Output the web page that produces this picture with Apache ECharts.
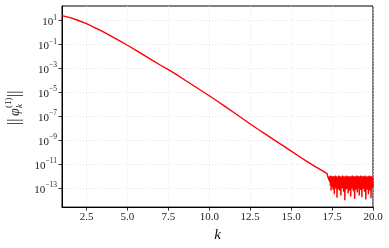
<!DOCTYPE html>
<html>
<head>
<meta charset="utf-8">
<script src="https://cdn.jsdelivr.net/npm/echarts@6/dist/echarts.min.js"></script>
<style>html,body{margin:0;padding:0;background:#fff;}#c{width:389px;height:248px;}</style>
</head>
<body>
<div id="c"></div>
<script>
// smooth decay part: k and log10 of the norm
const kSmooth = [1.0,1.5,2.0,2.5,3.0,3.5,4.0,4.5,5.0,5.5,6.0,6.5,7.0,7.5,8.0,8.5,9.0,9.5,10.0,10.5,11.0,11.5,12.0,12.5,13.0,13.5,14.0,14.5,15.0,15.5,16.0,16.5,17.0,17.2];
const logNormSmooth = [1.42,1.25,1.01,0.75,0.42,0.07,-0.30,-0.68,-1.06,-1.46,-1.88,-2.30,-2.71,-3.10,-3.52,-3.96,-4.40,-4.84,-5.28,-5.74,-6.21,-6.68,-7.16,-7.64,-8.10,-8.55,-9.00,-9.45,-9.90,-10.35,-10.80,-11.22,-11.62,-11.78];
// round-off noise floor, sampled every 0.02 from k = 17.22
const noiseStartK = 17.22, noiseStepK = 0.02;
const logNormNoise = [
-11.85,-12.05,-11.9,-12.2,-11.95,-12.35,-12.0,-12.5,-12.05,-12.8,-11.95,-13.2,-12.1,-12.9,-12.0,
-12.6,-12.05,-13.1,-12.0,-12.9,-12.1,-13.5,-12.0,-12.7,-11.95,
-13.0,-12.1,-12.8,-12.0,-13.8,-12.05,-12.9,-12.15,-13.1,-11.95,
-12.7,-12.0,-13.2,-12.1,-12.95,-12.0,-13.6,-12.05,-12.8,-12.1,
-13.0,-11.95,-12.85,-12.0,-13.3,-12.1,-12.9,-12.0,-14.0,-12.05,
-12.8,-12.1,-13.1,-11.95,-12.75,-12.0,-13.0,-12.1,-13.45,-12.0,
-12.9,-12.05,-13.2,-12.0,-12.8,-12.15,-13.7,-12.0,-12.95,-12.05,
-13.05,-11.95,-12.7,-12.1,-13.25,-12.0,-12.9,-12.05,-13.9,-12.0,
-12.85,-12.1,-13.1,-12.0,-12.75,-11.95,-13.35,-12.05,-12.9,-12.0,
-13.0,-12.1,-13.6,-12.0,-12.8,-12.05,-13.15,-11.95,-12.9,-12.1,
-13.75,-12.0,-12.85,-12.05,-13.05,-12.0,-12.7,-12.1,-13.3,-11.95,
-12.9,-12.0,-13.95,-12.05,-12.8,-12.1,-13.1,-12.0,-12.95,-12.05,
-13.5,-12.0,-12.85,-11.95,-13.2,-12.1,-12.9,-12.0,-13.85,-12.05,
-12.8,-12.0,-13.0,-12.1,-12.9
];
const xTicks = [2.5,5.0,7.5,10.0,12.5,15.0,17.5,20.0];
const yTickExponents = [1,-1,-3,-5,-7,-9,-11,-13];

const data = [];
kSmooth.forEach((k,i)=>data.push([k, logNormSmooth[i]]));
logNormNoise.forEach((v,i)=>data.push([+(noiseStartK + i*noiseStepK).toFixed(2), v]));

const serif = '"Liberation Serif", "DejaVu Serif", serif';
const chart = echarts.init(document.getElementById('c'), null, {renderer:'canvas'});
chart.setOption({
  animation:false,
  backgroundColor:'#fff',
  grid:{left:62, right:16, top:6, bottom:40, show:true, borderColor:'#000', borderWidth:1},
  xAxis:{
    type:'value', min:1, max:20,
    axisLine:{show:true, onZero:false, lineStyle:{color:'#000', width:1}},
    axisTick:{show:true, customValues:xTicks, length:3.5, lineStyle:{color:'#000', width:0.8}},
    axisLabel:{customValues:xTicks, color:'#222', fontFamily:serif, fontSize:11, margin:5,
      formatter:v=>v.toFixed(1)},
    splitLine:{show:true, lineStyle:{color:'#e0e0e0', type:[1,2], width:0.8}},
    name:'k', nameLocation:'middle', nameGap:18,
    nameTextStyle:{fontFamily:serif, fontStyle:'italic', fontSize:15, color:'#111'}
  },
  yAxis:{
    type:'value', min:-14.58, max:2.22,
    axisLine:{show:true, onZero:false, lineStyle:{color:'#000', width:1}},
    axisTick:{show:true, customValues:yTickExponents, length:3.5, lineStyle:{color:'#000', width:0.8}},
    axisLabel:{customValues:yTickExponents, color:'#222', margin:5,
      formatter:v=>'{b|10}{s|' + (v<0 ? '\u2212'+(-v) : v) + '}',
      rich:{
        b:{fontFamily:serif, fontSize:11, color:'#222', verticalAlign:'bottom', lineHeight:14},
        s:{fontFamily:serif, fontSize:7.5, color:'#222', verticalAlign:'top', lineHeight:14, padding:[0,0,5,0]}
      }},
    splitLine:{show:true, lineStyle:{color:'#e0e0e0', type:[1,2], width:0.8}}
  },
  graphic:[{
    type:'group', x:15, y:106, rotation:Math.PI/2,
    children:[
      {type:'text', x:-19, y:0, style:{text:'||', font:'16px '+serif, fill:'#222', verticalAlign:'middle', align:'left'}},
      {type:'text', x:-10, y:0, style:{text:'\u03c6', font:'italic 14px '+serif, fill:'#222', verticalAlign:'middle', align:'left'}},
      {type:'text', x:-2, y:-6, style:{text:'(1)', font:'9px '+serif, fill:'#222', verticalAlign:'middle', align:'left'}},
      {type:'text', x:-2, y:5, style:{text:'k', font:'italic 9px '+serif, fill:'#222', verticalAlign:'middle', align:'left'}},
      {type:'text', x:9, y:0, style:{text:'||', font:'16px '+serif, fill:'#222', verticalAlign:'middle', align:'left'}}
    ]
  }],
  series:[{
    type:'line', data:data, showSymbol:false, symbol:'none',
    lineStyle:{color:'#ff0000', width:1.4}, itemStyle:{color:'#ff0000'},
    clip:true
  }]
});
</script>
</body>
</html>
